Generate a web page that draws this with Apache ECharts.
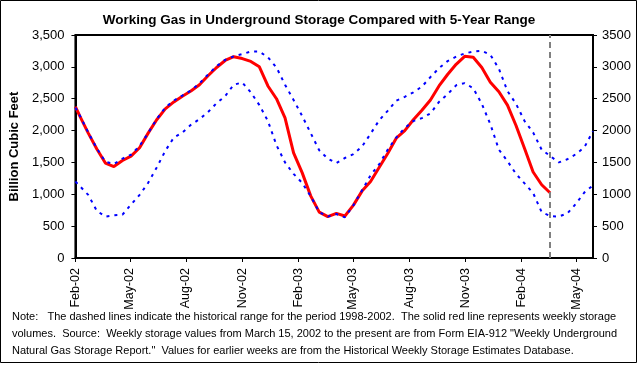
<!DOCTYPE html>
<html>
<head>
<meta charset="utf-8">
<script src="https://cdn.jsdelivr.net/npm/echarts@6/dist/echarts.min.js"></script>
<style>
  html, body { margin: 0; padding: 0; background: #fff; }
  #chart { width: 638px; height: 366px; }
</style>
</head>
<body>
<div id="chart"></div>
<script>
// ---- Data (values in Bcf) ----
var titleText = 'Working Gas in Underground Storage Compared with 5-Year Range';
var yAxisTitle = 'Billion Cubic Feet';
var monthNames = ['Jan','Feb','Mar','Apr','May','Jun','Jul','Aug','Sep','Oct','Nov','Dec'];
// quarterly tick dates [year, monthIndex]
var tickMonths = [[2002,1],[2002,4],[2002,7],[2002,10],[2003,1],[2003,4],[2003,7],[2003,10],[2004,1],[2004,4]];
var yTicks = [0, 500, 1000, 1500, 2000, 2500, 3000, 3500];

// sample dates: 2002-02-01, then every two weeks from 2002-02-08 to 2004-05-28
var sampleStart = [2002, 1, 8];
var sampleCount = 61;
var cutoffDate = [2004, 2, 19];   // last reported week (vertical dashed line)

// solid red line: weekly storage (ends at cutoff)
var actual = [2375, 2230, 1960, 1710, 1490, 1435, 1530, 1600, 1730, 1960,
  2170, 2340, 2450, 2540, 2620, 2720, 2860, 2990, 3100, 3160,
  3130, 3085, 3000, 2700, 2500, 2200, 1650, 1340, 975, 720,
  650, 700, 660, 830, 1050, 1200, 1420, 1640, 1880, 2000,
  2170, 2320, 2480, 2700, 2880, 3040, 3165, 3150, 2990, 2760,
  2610, 2400, 2080, 1720, 1350, 1150, 1020];

// dashed blue lines: 5-year (1998-2002) maximum and minimum
var rangeHigh = [2360, 2240, 1970, 1720, 1510, 1475, 1560, 1620, 1760, 1960,
  2180, 2360, 2470, 2550, 2630, 2740, 2880, 3010, 3110, 3165,
  3200, 3240, 3240, 3150, 2990, 2720, 2480, 2230, 1960, 1690,
  1560, 1490, 1570, 1630, 1750, 1950, 2160, 2310, 2470, 2530,
  2600, 2690, 2840, 2980, 3090, 3160, 3210, 3240, 3250, 3190,
  2970, 2620, 2420, 2150, 1970, 1700, 1600, 1500, 1550, 1630,
  1740, 1990];
var rangeLow = [1200, 1130, 990, 740, 650, 670, 680, 840, 990, 1180,
  1420, 1680, 1890, 1970, 2090, 2180, 2290, 2430, 2540, 2720,
  2755, 2600, 2400, 2150, 1770, 1500, 1320, 1180, 970, 720,
  650, 690, 640, 830, 1060, 1300, 1470, 1700, 1890, 2040,
  2150, 2195, 2270, 2450, 2570, 2710, 2745, 2665, 2420, 2100,
  1700, 1520, 1320, 1170, 1020, 720, 660, 650, 700, 850,
  1030, 1140];

var noteLines = [
  'Note:   The dashed lines indicate the historical range for the period 1998-2002.  The solid red line represents weekly storage',
  'volumes.  Source:  Weekly storage values from March 15, 2002 to the present are from Form EIA-912 "Weekly Underground',
  'Natural Gas Storage Report."  Values for earlier weeks are from the Historical Weekly Storage Estimates Database.'
];

// ---- Build ----
var dates = [new Date(2002, 1, 1).getTime()];
for (var k = 0; k < sampleCount; k++) {
  dates.push(new Date(sampleStart[0], sampleStart[1], sampleStart[2] + 14 * k).getTime());
}
var tickValues = tickMonths.map(function (m) { return new Date(m[0], m[1], 1).getTime(); });
var cutoff = new Date(cutoffDate[0], cutoffDate[1], cutoffDate[2]).getTime();

function pairs(vals) {
  return vals.map(function (v, i) { return [dates[i], v]; });
}
function fmtDate(v) {
  var d = new Date(v);
  var yy = String(d.getFullYear() % 100);
  if (yy.length < 2) yy = '0' + yy;
  return monthNames[d.getMonth()] + '-' + yy;
}

var chart = echarts.init(document.getElementById('chart'), null, { renderer: 'canvas' });
var font = 'Arial, "Liberation Sans", sans-serif';
var dashStyle = { color: '#0000ff', width: 2, type: [3, 5] };

chart.setOption({
  animation: false,
  backgroundColor: '#ffffff',
  title: {
    text: titleText,
    left: 'center',
    top: 8,
    textStyle: { fontFamily: font, fontSize: 13.5, fontWeight: 'bold', color: '#000' }
  },
  grid: {
    left: 73, right: 45, top: 35, bottom: 108,
    show: true, borderColor: '#000', borderWidth: 2, backgroundColor: '#fff'
  },
  xAxis: {
    type: 'value',
    min: dates[0],
    max: dates[dates.length - 1],
    scale: true,
    axisLine: { lineStyle: { color: '#000', width: 2 } },
    axisTick: { show: true, length: 4, inside: false, customValues: tickValues, lineStyle: { color: '#000', width: 1 } },
    axisLabel: {
      customValues: tickValues,
      rotate: 90,
      margin: 10,
      fontFamily: font, fontSize: 12.5, color: '#000',
      formatter: fmtDate,
      showMinLabel: true, showMaxLabel: true,
      hideOverlap: false
    },
    splitLine: { show: false }
  },
  yAxis: [{
    type: 'value', min: 0, max: 3500, interval: 500,
    name: yAxisTitle, nameLocation: 'middle', nameGap: 51,
    nameTextStyle: { fontFamily: font, fontSize: 13, fontWeight: 'bold', color: '#000' },
    axisLine: { show: true, lineStyle: { color: '#000', width: 2 } },
    axisTick: { show: true, length: 4, lineStyle: { color: '#000' } },
    axisLabel: {
      margin: 11, fontFamily: font, fontSize: 13, color: '#000',
      formatter: function (v) { return v.toLocaleString('en-US'); }
    },
    splitLine: { show: false }
  }, {
    type: 'value', min: 0, max: 3500, interval: 500, position: 'right',
    axisLine: { show: true, lineStyle: { color: '#000', width: 2 } },
    axisTick: { show: true, length: 4, lineStyle: { color: '#000' } },
    axisLabel: { margin: 9, fontFamily: font, fontSize: 13, color: '#000', formatter: function (v) { return String(v); } },
    splitLine: { show: false }
  }],
  series: [{
    name: 'Weekly storage',
    type: 'line',
    data: pairs(actual),
    showSymbol: false,
    lineStyle: { color: '#ff0000', width: 3 },
    itemStyle: { color: '#ff0000' },
    z: 2,
    markLine: {
      silent: true,
      symbol: ['none', 'none'],
      label: { show: false },
      lineStyle: { color: '#808080', width: 2, type: [6, 4] },
      data: [{ xAxis: cutoff }]
    }
  }, {
    name: '5-year maximum',
    type: 'line',
    data: pairs(rangeHigh),
    showSymbol: false,
    lineStyle: dashStyle,
    itemStyle: { color: '#0000ff' },
    z: 3
  }, {
    name: '5-year minimum',
    type: 'line',
    data: pairs(rangeLow),
    showSymbol: false,
    lineStyle: dashStyle,
    itemStyle: { color: '#0000ff' },
    z: 3
  }],
  graphic: [{
    type: 'rect',
    shape: { x: 0.5, y: 0.5, width: 636, height: 362 },
    style: { fill: 'none', stroke: '#000', lineWidth: 1 },
    silent: true
  }, {
    type: 'text',
    left: 12,
    top: 309,
    style: {
      text: noteLines.join('\n'),
      font: '11px ' + font,
      fill: '#000',
      lineHeight: 16.7
    }
  }]
});
</script>
</body>
</html>
